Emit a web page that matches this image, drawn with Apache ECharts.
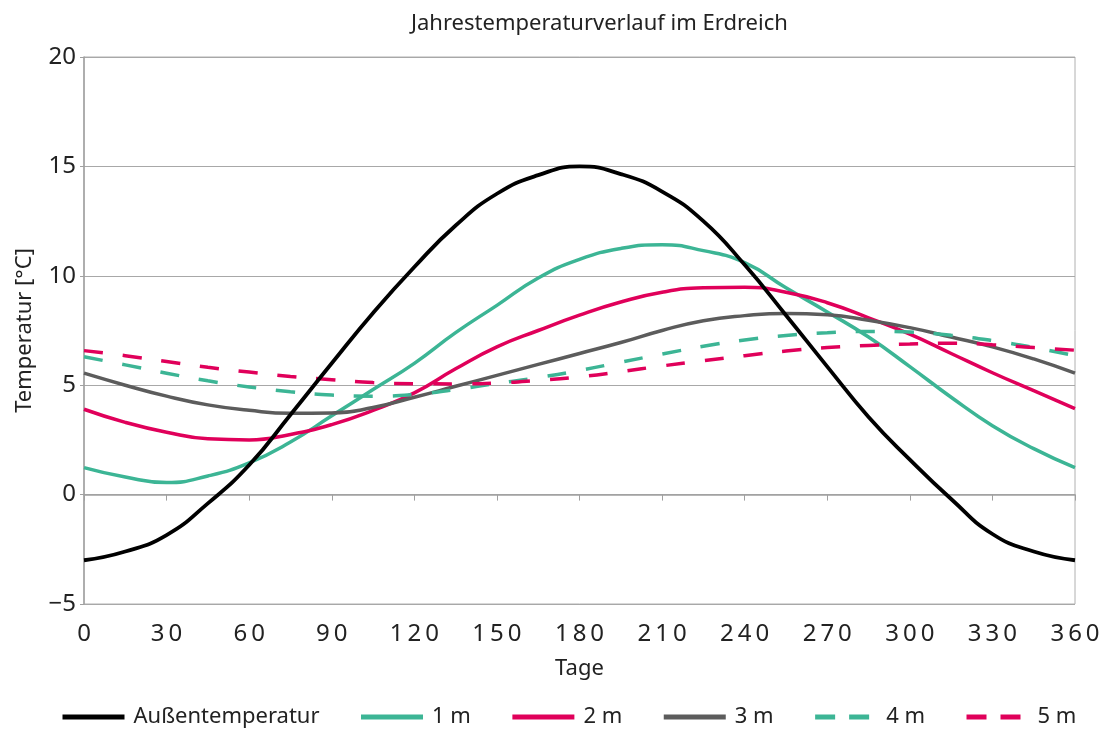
<!DOCTYPE html>
<html>
<head>
<meta charset="utf-8">
<script src="https://cdn.jsdelivr.net/npm/echarts@6/dist/echarts.min.js"></script>
<style>html,body{margin:0;padding:0;background:#fff}#c{width:1102px;height:731px}</style>
</head>
<body>
<div id="c"></div>
<script>
var days = [0,15,30,45,60,75,90,105,120,135,150,165,180,195,210,225,240,255,270,285,300,315,330,345,360];
var aussen = [-3.0,-2.6,-1.85,-0.4,1.35,3.65,6.0,8.3,10.4,12.3,13.75,14.6,15.0,14.65,13.85,12.5,10.5,8.2,5.85,3.55,1.6,-0.2,-1.8,-2.6,-3.0];
var m1 = [1.23,0.8,0.55,0.85,1.45,2.4,3.6,4.8,6.0,7.4,8.65,9.9,10.75,11.25,11.42,11.15,10.6,9.45,8.35,7.2,5.85,4.45,3.15,2.1,1.23];
var m2 = [3.9,3.3,2.85,2.55,2.5,2.75,3.2,3.85,4.65,5.75,6.75,7.5,8.2,8.8,9.25,9.45,9.48,9.25,8.77,8.08,7.33,6.45,5.57,4.75,3.93];
var m3 = [5.55,5.0,4.5,4.1,3.85,3.72,3.73,3.98,4.45,4.95,5.45,5.95,6.45,6.95,7.5,7.95,8.18,8.28,8.22,7.97,7.63,7.2,6.75,6.2,5.55];
var m4 = [6.3,5.93,5.55,5.2,4.92,4.7,4.55,4.5,4.58,4.8,5.08,5.35,5.67,6.05,6.42,6.78,7.07,7.27,7.4,7.46,7.43,7.28,7.04,6.72,6.35];
var m5 = [6.58,6.35,6.08,5.82,5.6,5.4,5.25,5.12,5.07,5.06,5.1,5.22,5.38,5.62,5.88,6.12,6.35,6.56,6.72,6.82,6.88,6.92,6.85,6.72,6.6];
var names = ['Außentemperatur','1 m','2 m','3 m','4 m','5 m'];
var xTicks = [0,30,60,90,120,150,180,210,240,270,300,330,360];
var yTicks = [-5,0,5,10,15,20];

function pairs(v){ return days.map(function(d,i){ return [d, v[i]]; }); }
function spaced(s){ return String(s).split('').join('\u2009'); }

var colors = ['#000000','#3cb595','#e0005a','#5c5c5c','#3cb595','#e0005a'];
var values = [aussen,m1,m2,m3,m4,m5];
var series = values.map(function(v,i){
  return {
    name: names[i], type: 'line', data: pairs(v), smooth: 0.5, symbol: 'none',
    lineStyle: { color: colors[i], width: i===0 ? 3.8 : 3.5, type: i>=4 ? [19,20] : 'solid' },
    itemStyle: { color: colors[i] }, z: i===0 ? 3 : 2
  };
});

var legendData = names.map(function(n,i){
  return { name: n, itemStyle: { opacity: 0 },
    lineStyle: { width: 5, type: i>=4 ? [20,14] : 'solid', color: colors[i] } };
});

var chart = echarts.init(document.getElementById('c'), null, {renderer:'canvas'});
chart.setOption({
  animation: false,
  textStyle: { fontFamily: 'Noto Sans' },
  title: { text: 'Jahrestemperaturverlauf im Erdreich', left: 406, top: 8,
    textStyle: { fontSize: 22, fontWeight: 'normal', color: '#222', fontFamily: 'Noto Sans' } },
  grid: { left: 84, right: 27, top: 57, bottom: 127, show: true, borderColor: '#b0b0b0', borderWidth: 1,
    outerBoundsMode: 'none', containLabel: false },
  legend: {
    data: legendData, bottom: -2, left: 55, itemWidth: 62, itemHeight: 5, itemGap: 39,
    textStyle: { fontSize: 22, color: '#222', fontFamily: 'Noto Sans', padding: [0,0,0,4] }
  },
  xAxis: {
    type: 'value', min: 0, max: 360, interval: 30,
    name: 'Tage', nameLocation: 'middle', nameGap: 54,
    nameTextStyle: { fontSize: 22, color: '#222' },
    axisLine: { show: true, lineStyle: { color: '#a0a0a0', width: 1.5 } },
    axisTick: { show: true, length: 6, lineStyle: { color: '#a0a0a0' } },
    splitLine: { show: false },
    axisLabel: { fontSize: 24, color: '#222', margin: 18, hideOverlap: false,
      formatter: function(v){ return spaced(v); } }
  },
  yAxis: {
    type: 'value', min: -5, max: 20, interval: 5,
    name: 'Temperatur [°C]', nameLocation: 'middle', nameGap: 48, nameRotate: 90,
    nameTextStyle: { fontSize: 22, color: '#222' },
    axisLine: { show: true, lineStyle: { color: '#a0a0a0', width: 1.5 } },
    axisTick: { show: true, length: 4, lineStyle: { color: '#a0a0a0' } },
    splitLine: { show: true, lineStyle: { color: '#a8a8a8', width: 1.2 } },
    axisLabel: { fontSize: 24, color: '#222', margin: 8,
      formatter: function(v){ return v < 0 ? '\u2212' + Math.abs(v) : String(v); } }
  },
  series: series
});
</script>
</body>
</html>
